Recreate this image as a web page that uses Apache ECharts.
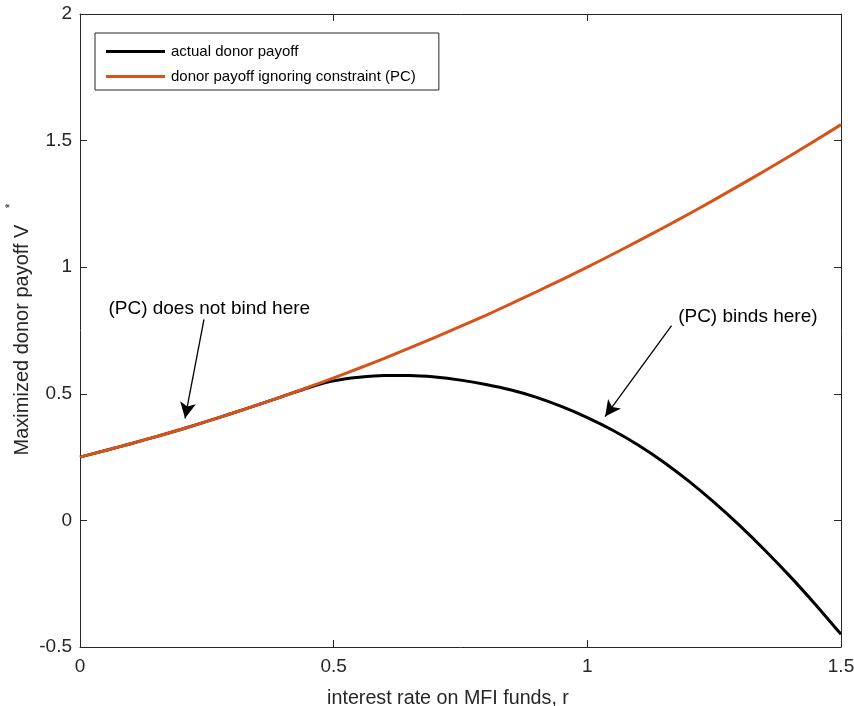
<!DOCTYPE html>
<html>
<head>
<meta charset="utf-8">
<script src="https://cdn.jsdelivr.net/npm/echarts@6/dist/echarts.min.js"></script>
<style>
  html, body { margin: 0; padding: 0; background: #ffffff; }
  #chart { width: 854px; height: 706px; }
</style>
</head>
<body>
<div id="chart"></div>
<script>
// 数据：利率 r 与两条收益曲线
const RATES = [0, 0.05, 0.1, 0.15, 0.2, 0.25, 0.3, 0.35, 0.4, 0.45, 0.5, 0.55, 0.6, 0.65, 0.7,
  0.75, 0.8, 0.85, 0.9, 0.95, 1.0, 1.05, 1.1, 1.15, 1.2, 1.25, 1.3, 1.35, 1.4, 1.45, 1.5];
const PAYOFF_IGNORING = [0.25, 0.276, 0.303, 0.331, 0.36, 0.391, 0.423, 0.456, 0.49, 0.526, 0.563,
  0.601, 0.64, 0.681, 0.723, 0.766, 0.81, 0.856, 0.903, 0.951, 1.0, 1.051, 1.103, 1.156, 1.21,
  1.266, 1.323, 1.381, 1.44, 1.501, 1.563];
const PAYOFF_ACTUAL = [0.25, 0.276, 0.303, 0.331, 0.36, 0.391, 0.423, 0.456, 0.49, 0.524, 0.551,
  0.565, 0.572, 0.572, 0.566, 0.554, 0.537, 0.515, 0.486, 0.449, 0.406, 0.356, 0.298, 0.231, 0.155,
  0.071, -0.02, -0.118, -0.222, -0.333, -0.45];
const SERIES_NAMES = ['actual donor payoff', 'donor payoff ignoring constraint (PC)'];
const X_TICKS = { min: 0, max: 1.5, interval: 0.5 };
const Y_TICKS = { min: -0.5, max: 2, interval: 0.5 };

// 注释：箭头起点/终点与文字位置（数据坐标）
const NOTES = [
  { text: '(PC) does not bind here', at: [0.056, 0.834], from: [0.2444, 0.794], to: [0.207, 0.403] },
  { text: '(PC) binds here)', at: [1.179, 0.804], from: [1.166, 0.769], to: [1.035, 0.41] },
];

const FONT = '"Liberation Sans", Arial, Helvetica, sans-serif';
const AXIS_COLOR = '#262626';

const pairs = (ys) => RATES.map((r, i) => [r, ys[i]]);

function axisCommon(showLabel, margin) {
  return {
    type: 'value',
    splitLine: { show: false },
    axisLine: { show: true, onZero: false, lineStyle: { color: AXIS_COLOR, width: 1 } },
    axisTick: { show: true, inside: true, length: 7, lineStyle: { color: AXIS_COLOR } },
    axisLabel: { show: showLabel, margin: margin || 8, color: AXIS_COLOR, fontFamily: FONT, fontSize: 19 },
  };
}

const chart = echarts.init(document.getElementById('chart'));

chart.setOption({
  animation: false,
  backgroundColor: '#ffffff',
  grid: { left: 80, right: 13, top: 14, bottom: 59, containLabel: false, outerBoundsMode: 'none' },
  xAxis: [
    { ...axisCommon(true, 10), ...X_TICKS, position: 'bottom' },
    { ...axisCommon(false), ...X_TICKS, position: 'top' },
  ],
  yAxis: [
    { ...axisCommon(true, 8), ...Y_TICKS, position: 'left' },
    { ...axisCommon(false), ...Y_TICKS, position: 'right' },
  ],
  legend: {
    left: 95,
    top: 33,
    orient: 'vertical',
    backgroundColor: '#ffffff',
    borderColor: AXIS_COLOR,
    borderWidth: 1,
    borderRadius: 0,
    padding: [11, 23, 6, 11],
    icon: 'rect',
    itemWidth: 59,
    itemHeight: 3,
    itemGap: 10,
    textStyle: { color: '#000000', fontFamily: FONT, fontSize: 15, padding: [0, 0, 0, 1] },
    data: SERIES_NAMES,
  },
  series: [
    {
      name: SERIES_NAMES[0],
      type: 'line',
      data: pairs(PAYOFF_ACTUAL),
      showSymbol: false,
      symbol: 'none',
      smooth: 0.2,
      lineStyle: { color: '#000000', width: 3 },
      itemStyle: { color: '#000000' },
      z: 2,
      markLine: {
        silent: true,
        symbol: ['none', 'arrow'],
        symbolSize: [12, 16],
        label: { show: false },
        lineStyle: { color: '#000000', width: 1.3, type: 'solid' },
        data: NOTES.map((n) => [{ coord: n.from }, { coord: n.to }]),
      },
    },
    {
      name: SERIES_NAMES[1],
      type: 'line',
      data: pairs(PAYOFF_IGNORING),
      showSymbol: false,
      symbol: 'none',
      smooth: 0.2,
      lineStyle: { color: '#d95319', width: 3 },
      itemStyle: { color: '#d95319' },
      z: 3,
    },
  ],
});

// 注释文字与坐标轴标题：用 convertToPixel 定位
const graphic = NOTES.map((n) => {
  const [px, py] = chart.convertToPixel({ gridIndex: 0 }, n.at);
  return {
    type: 'text', x: px, y: py, silent: true,
    style: { text: n.text, fill: '#000000', font: `19px ${FONT}`, align: 'left', verticalAlign: 'middle' },
  };
});
graphic.push(
  { type: 'text', x: 448, y: 699, silent: true,
    style: { text: 'interest rate on MFI funds, r', fill: AXIS_COLOR, font: `19.7px ${FONT}`, align: 'center', verticalAlign: 'middle' } },
  { type: 'text', x: 22, y: 340, rotation: Math.PI / 2, silent: true,
    style: { text: 'Maximized donor payoff V', fill: AXIS_COLOR, font: `20px ${FONT}`, align: 'center', verticalAlign: 'middle' } },
  { type: 'text', x: 11, y: 206, rotation: Math.PI / 2, silent: true,
    style: { text: '*', fill: AXIS_COLOR, font: `12px ${FONT}`, align: 'center', verticalAlign: 'middle' } },
);
chart.setOption({ graphic });
</script>
</body>
</html>
